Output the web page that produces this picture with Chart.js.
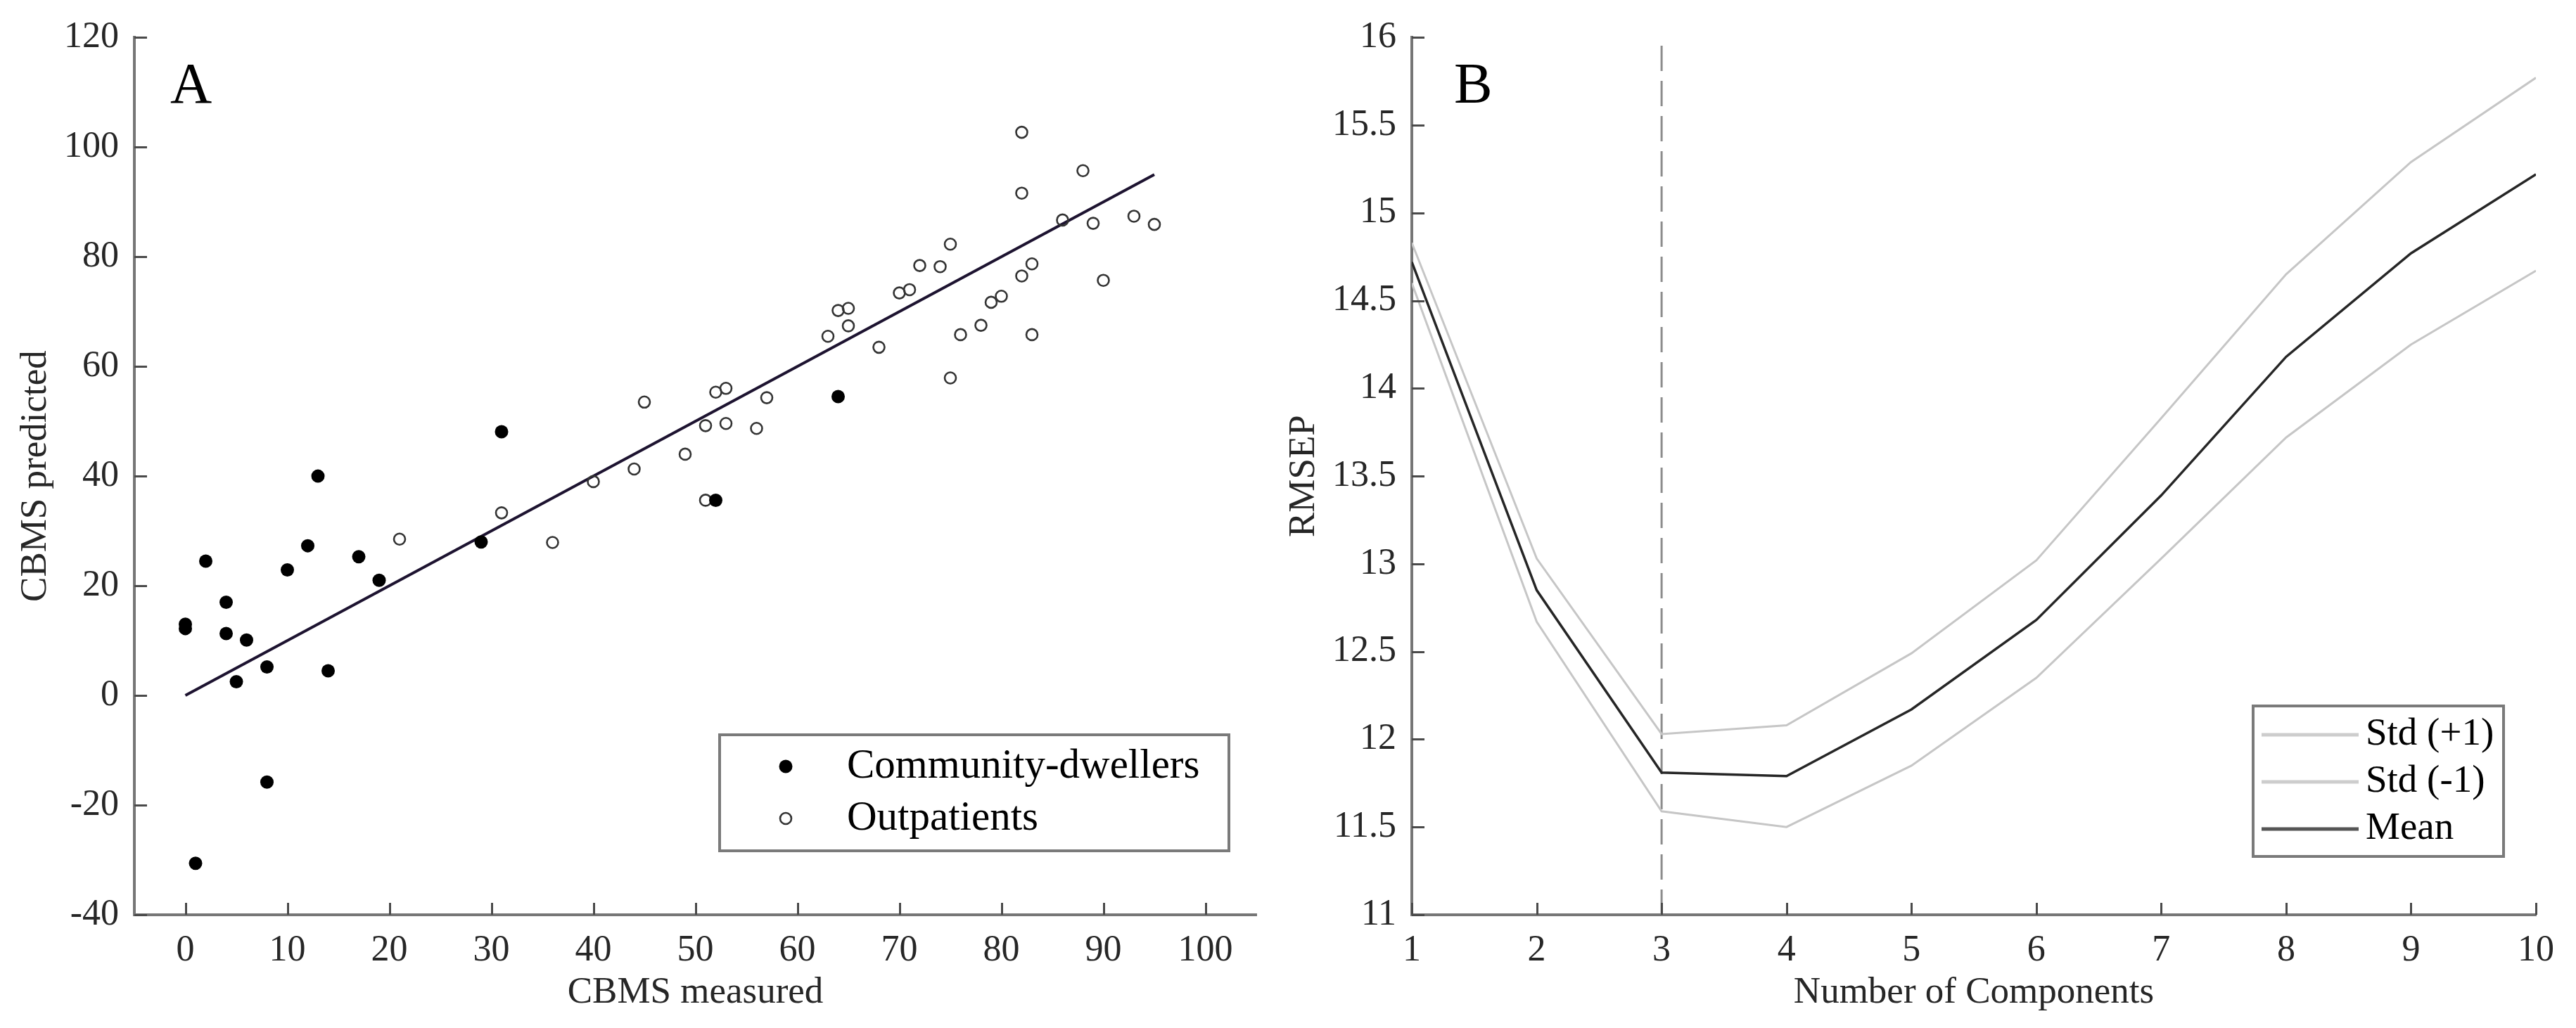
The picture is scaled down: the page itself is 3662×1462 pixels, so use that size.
<!DOCTYPE html>
<html><head><meta charset="utf-8">
<script src="https://cdn.jsdelivr.net/npm/chart.js@4.4.0/dist/chart.umd.min.js"></script>
<style>
html,body{margin:0;padding:0;background:#fff;overflow:hidden}
#wrap{position:relative;width:3662px;height:1462px;background:#fff}
#ca{position:absolute;left:0;top:0}
#cb{position:absolute;left:1800px;top:0}
</style></head><body>
<div id="wrap"><canvas id="ca" width="1800" height="1462"></canvas><canvas id="cb" width="1862" height="1462"></canvas></div>
<script>
// ---------- Panel A data ----------
const communityX = [0, 0, 1, 2, 4, 4, 5, 6, 8, 8, 10, 12, 13, 14, 17, 19, 29, 31, 52, 64];
const communityY = [13, 12.2, -30.6, 24.5, 17, 11.3, 2.5, 10.1, 5.2, -15.8, 22.9, 27.3, 40, 4.5, 25.3, 21, 28, 48.1, 35.6, 54.5];
const outpatientX = [21, 31, 36, 40, 44, 45, 49, 51, 51, 52, 53, 53, 56, 57, 63, 64, 65, 65, 68, 70, 71, 72, 74, 75, 75, 76, 78, 79, 80, 82, 82, 82, 83, 83, 86, 88, 89, 90, 93, 95];
const outpatientY = [28.5, 33.3, 27.9, 39, 41.3, 53.5, 44, 49.2, 35.6, 55.3, 56, 49.6, 48.7, 54.3, 65.5, 70.2, 70.6, 67.4, 63.5, 73.4, 74, 78.4, 78.2, 82.3, 57.9, 65.8, 67.5, 71.7, 72.8, 102.7, 91.6, 76.5, 78.7, 65.8, 86.7, 95.7, 86.1, 75.7, 87.4, 85.9];
const fitX = [0, 95];
const fitY = [0, 95];
const xTicksA = [0, 10, 20, 30, 40, 50, 60, 70, 80, 90, 100];
const yTicksA = [-40, -20, 0, 20, 40, 60, 80, 100, 120];
const seriesLabelsA = ['Community-dwellers', 'Outpatients'];

// ---------- Panel B data ----------
const components = [1, 2, 3, 4, 5, 6, 7, 8, 9, 10];
const stdPlus  = [14.83, 13.03, 12.03, 12.08, 12.49, 13.02, 13.83, 14.65, 15.29, 15.77];
const stdMinus = [14.60, 12.67, 11.59, 11.50, 11.85, 12.35, 13.03, 13.72, 14.25, 14.67];
const meanRMSEP = [14.72, 12.85, 11.81, 11.79, 12.17, 12.68, 13.39, 14.18, 14.77, 15.22];
const optimalComponents = 3;
const xTicksB = [1, 2, 3, 4, 5, 6, 7, 8, 9, 10];
const yTicksB = [11, 11.5, 12, 12.5, 13, 13.5, 14, 14.5, 15, 15.5, 16];
const seriesLabelsB = ['Std (+1)', 'Std (-1)', 'Mean'];

const FONT = "'Liberation Serif','Times New Roman',Times,serif";
const TXT = '#262626';
const AXIS = '#767676';

const inwardTicks = {
  id: 'inwardTicks',
  afterDatasetsDraw(chart) {
    const ctx = chart.ctx, ca = chart.chartArea;
    const xs = chart.scales.x, ys = chart.scales.y;
    ctx.save();
    ctx.strokeStyle = '#4a4a4a';
    ctx.lineWidth = 3;
    xs.ticks.forEach(t => {
      const p = Math.round(xs.getPixelForValue(t.value)) + 0.5;
      ctx.beginPath(); ctx.moveTo(p, ca.bottom); ctx.lineTo(p, ca.bottom - 17); ctx.stroke();
    });
    ys.ticks.forEach(t => {
      const p = Math.round(ys.getPixelForValue(t.value)) + 0.5;
      ctx.beginPath(); ctx.moveTo(ca.left, p); ctx.lineTo(ca.left + 18, p); ctx.stroke();
    });
    ctx.restore();
  }
};

const panelLetter = {
  id: 'panelLetter',
  afterDraw(chart, args, o) {
    const ctx = chart.ctx, ca = chart.chartArea;
    ctx.save();
    ctx.fillStyle = '#000';
    ctx.font = '82px ' + FONT;
    ctx.textBaseline = 'alphabetic';
    ctx.textAlign = 'left';
    ctx.fillText(o.text, ca.left + o.dx, ca.top + o.dy);
    ctx.restore();
  }
};

const boxLegend = {
  id: 'boxLegend',
  afterDraw(chart, args, o) {
    const ctx = chart.ctx, ca = chart.chartArea;
    const bx = ca.right - o.right - o.width, by = ca.bottom - o.bottom - o.height;
    ctx.save();
    ctx.fillStyle = '#fff';
    ctx.fillRect(bx, by, o.width, o.height);
    ctx.strokeStyle = '#7a7a7a';
    ctx.lineWidth = 4;
    ctx.strokeRect(bx, by, o.width, o.height);
    ctx.font = o.fontSize + 'px ' + FONT;
    ctx.textBaseline = 'middle';
    ctx.textAlign = 'left';
    o.labels.forEach((lab, i) => {
      const d = chart.data.datasets.find(ds => ds.label === lab);
      const y = by + o.rows[i];
      if (o.kind === 'marker') {
        ctx.beginPath();
        ctx.arc(bx + o.markX, y, d.pointRadius, 0, Math.PI * 2);
        if (d.filled) { ctx.fillStyle = d.pointBackgroundColor; ctx.fill(); }
        else { ctx.strokeStyle = d.pointBorderColor; ctx.lineWidth = d.pointBorderWidth; ctx.stroke(); }
      } else {
        ctx.beginPath();
        ctx.strokeStyle = d.legendColor || d.borderColor;
        ctx.lineWidth = 5;
        ctx.moveTo(bx + o.lineX0, y); ctx.lineTo(bx + o.lineX1, y); ctx.stroke();
      }
      ctx.fillStyle = '#000';
      ctx.fillText(lab, bx + o.textX, y);
    });
    ctx.restore();
  }
};

function axisCommon(min, max, tickVals, isX, size) {
  return {
    type: 'linear', min, max,
    afterBuildTicks(s) { s.ticks = tickVals.map(v => ({ value: v })); },
    grid: { display: false, drawTicks: false },
    border: { display: true, color: AXIS, width: 4 },
    ticks: {
      color: TXT, font: { family: FONT, size: 52 }, padding: isX ? 20 : 22,
      maxRotation: 0, autoSkip: false, callback: v => String(v)
    }
  };
}

// ---------- Panel A ----------
const sA = {
  x: Object.assign(axisCommon(-5, 105, xTicksA, true), {
    afterFit(s) { s.height = 161; },
    title: { display: true, text: 'CBMS measured', color: TXT, font: { family: FONT, size: 53, lineHeight: 1.2 }, padding: { top: 0, bottom: 18 } }
  }),
  y: Object.assign(axisCommon(-40, 120, yTicksA, false), {
    afterFit(s) { s.width = 191; },
    title: { display: true, text: 'CBMS predicted', color: TXT, font: { family: FONT, size: 53, lineHeight: 1.2 }, padding: { top: 19, bottom: 0 } }
  })
};

new Chart(document.getElementById('ca'), {
  type: 'scatter',
  data: {
    datasets: [
      { label: seriesLabelsA[0], data: communityX.map((x, i) => ({ x, y: communityY[i] })),
        pointRadius: 9.5, pointBackgroundColor: '#000', pointBorderColor: '#000', pointBorderWidth: 0, filled: true, order: 1 },
      { label: seriesLabelsA[1], data: outpatientX.map((x, i) => ({ x, y: outpatientY[i] })),
        pointRadius: 8, pointBackgroundColor: 'rgba(255,255,255,0)', pointBorderColor: '#333', pointBorderWidth: 2.6, filled: false, order: 2 },
      { label: 'Fit', type: 'line', data: fitX.map((x, i) => ({ x, y: fitY[i] })),
        borderColor: '#1d1330', borderWidth: 4, pointRadius: 0, fill: false, showLine: true, order: 3 }
    ]
  },
  options: {
    responsive: false, animation: false, devicePixelRatio: 1,
    layout: { padding: { top: 41, right: 14, left: 0, bottom: 0 } },
    plugins: {
      legend: { display: false }, tooltip: { enabled: false },
      panelLetter: { text: 'A', dx: 51, dy: 93 },
      boxLegend: { kind: 'marker', labels: seriesLabelsA, right: 39, bottom: 91, width: 724, height: 165,
        rows: [45, 119], markX: 94, textX: 181, fontSize: 59 }
    },
    scales: sA
  },
  plugins: [inwardTicks, panelLetter, boxLegend]
});

// ---------- Panel B ----------
const sB = {
  x: Object.assign(axisCommon(1, 10, xTicksB, true), {
    afterFit(s) { s.height = 161; },
    title: { display: true, text: 'Number of Components', color: TXT, font: { family: FONT, size: 53, lineHeight: 1.2 }, padding: { top: 0, bottom: 18 } }
  }),
  y: Object.assign(axisCommon(11, 16, yTicksB, false), {
    afterFit(s) { s.width = 207; },
    title: { display: true, text: 'RMSEP', color: TXT, font: { family: FONT, size: 53, lineHeight: 1.2 }, padding: { top: 22, bottom: 0 } }
  })
};

new Chart(document.getElementById('cb'), {
  type: 'line',
  data: {
    datasets: [
      { label: seriesLabelsB[0], data: components.map((x, i) => ({ x, y: stdPlus[i] })),
        borderColor: '#c6c6c6', legendColor: '#cdcdcd', borderWidth: 3, pointRadius: 0, fill: false, tension: 0, order: 2 },
      { label: seriesLabelsB[1], data: components.map((x, i) => ({ x, y: stdMinus[i] })),
        borderColor: '#c6c6c6', legendColor: '#cdcdcd', borderWidth: 3, pointRadius: 0, fill: false, tension: 0, order: 2 },
      { label: seriesLabelsB[2], data: components.map((x, i) => ({ x, y: meanRMSEP[i] })),
        borderColor: '#262626', legendColor: '#555555', borderWidth: 3.5, pointRadius: 0, fill: false, tension: 0, order: 1 },
      { label: 'Optimal', data: [{ x: optimalComponents, y: yTicksB[0] }, { x: optimalComponents, y: yTicksB[yTicksB.length - 1] }],
        borderColor: '#8c8c8c', borderWidth: 3, borderDash: [36, 14], pointRadius: 0, fill: false, order: 3 }
    ]
  },
  options: {
    responsive: false, animation: false, devicePixelRatio: 1,
    layout: { padding: { top: 41, right: 57, left: 0, bottom: 0 } },
    plugins: {
      legend: { display: false }, tooltip: { enabled: false },
      panelLetter: { text: 'B', dx: 60, dy: 93 },
      boxLegend: { kind: 'line', labels: seriesLabelsB, right: 46, bottom: 83, width: 356, height: 214,
        rows: [41, 108, 175], lineX0: 12, lineX1: 150, textX: 160, fontSize: 55 }
    },
    scales: sB
  },
  plugins: [inwardTicks, panelLetter, boxLegend]
});
</script>
</body></html>
